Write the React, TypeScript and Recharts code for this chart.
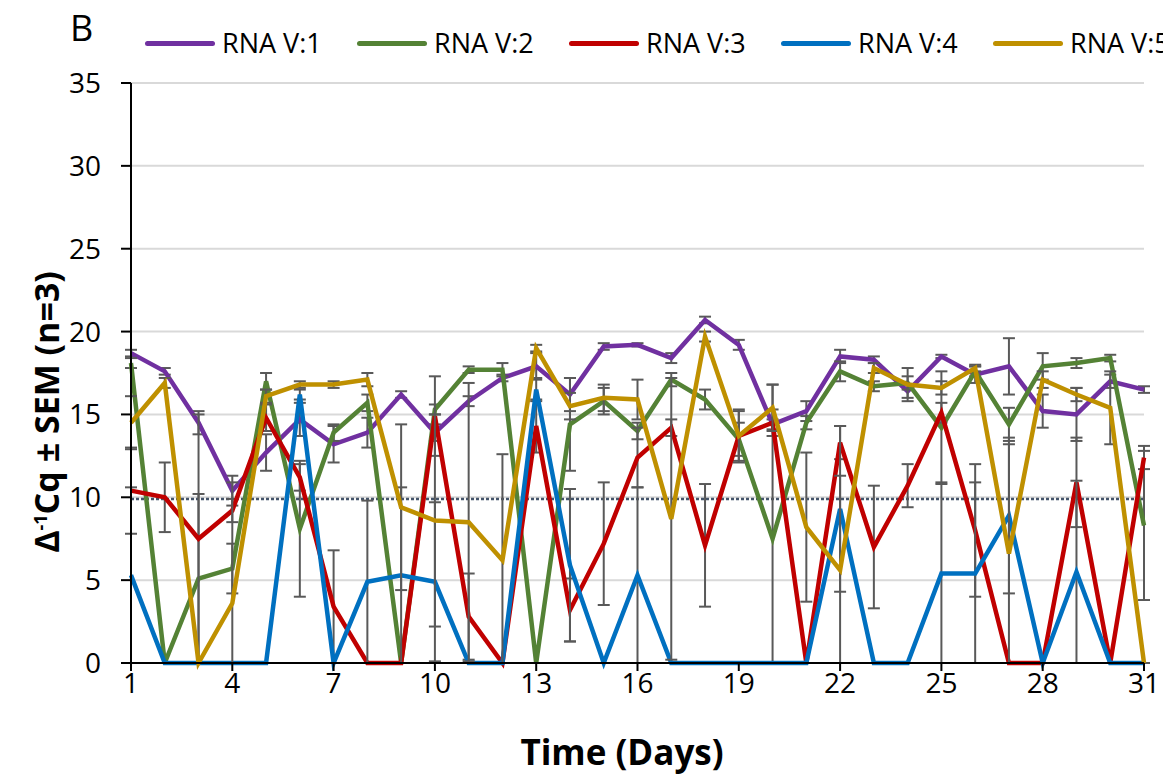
import React from 'react';
import { LineChart, Line, XAxis, YAxis, CartesianGrid, ErrorBar, ReferenceLine } from 'recharts';

const days = [1, 2, 3, 4, 5, 6, 7, 8, 9, 10, 11, 12, 13, 14, 15, 16, 17, 18, 19, 20, 21, 22, 23, 24, 25, 26, 27, 28, 29, 30, 31];
const xTicks = [1, 4, 7, 10, 13, 16, 19, 22, 25, 28, 31];
const yTicks = [0, 5, 10, 15, 20, 25, 30, 35];
const threshold = 9.9;

const seriesNames = ['RNA V:1', 'RNA V:2', 'RNA V:3', 'RNA V:4', 'RNA V:5'];
const seriesColors = ['#7030A0', '#548235', '#C00000', '#0070C0', '#BF9000'];

const rnaV1 = [18.7, 17.6, 14.5, 10.4, 12.7, 14.7, 13.2, 13.9, 16.2, 13.9, 15.8, 17.2, 17.9, 16.2, 19.1, 19.2, 18.4, 20.7, 19.2, 14.4, 15.2, 18.5, 18.3, 16.4, 18.5, 17.4, 17.9, 15.2, 15.0, 17.0, 16.5];
const rnaV1Sem = [0.2, 0.2, 0.7, 0.9, 1.1, 1.0, 1.1, 0.9, 0.2, 0.5, 0.3, 0.2, 0.8, 1.0, 0.2, 0.1, 0.3, 0.2, 0.3, 0.3, 0.6, 0.4, 0.2, 0.4, 0.1, 0.5, 1.7, 1.0, 1.6, 0.4, 0.2];

const rnaV2 = [18.1, 0, 5.1, 5.7, 17.0, 8.1, 13.9, 15.7, 0, 15.3, 17.7, 17.7, 0, 14.4, 15.8, 14.0, 17.1, 15.9, 13.5, 7.5, 14.5, 17.6, 16.7, 16.9, 14.2, 17.6, 14.4, 17.9, 18.1, 18.4, 8.3];
const rnaV2Sem = [0.3, 0, 5.1, 1.5, 0.5, 4.1, 0.5, 0.5, 0, 0.3, 0.2, 0.4, 0, 2.8, 0.8, 0.5, 0.4, 0.6, 1.0, 9.3, 0.4, 0.6, 0.3, 0.4, 3.4, 0.3, 1.0, 0.8, 0.3, 0.2, 4.5];

const rnaV3 = [10.4, 10.0, 7.5, 9.2, 14.8, 11.2, 3.4, 0, 0, 14.9, 2.8, 0, 14.3, 3.2, 7.2, 12.4, 14.2, 7.1, 13.7, 14.5, 0, 13.3, 7.0, 10.7, 15.1, 8.0, 0, 0, 10.9, 0, 12.4];
const rnaV3Sem = [2.6, 2.1, 7.5, 0.7, 0.8, 0.8, 3.4, 0, 0, 2.4, 2.6, 0, 1.6, 1.9, 3.7, 1.8, 0.5, 3.7, 1.5, 0.8, 0, 1.0, 3.7, 1.3, 0.6, 4.0, 0, 0, 2.7, 0, 0.7];

const rnaV4 = [5.3, 0, 0, 0, 0, 16.2, 0, 4.9, 5.3, 4.9, 0, 0, 16.5, 5.9, 0, 5.3, 0, 0, 0, 0, 0, 9.3, 0, 0, 5.4, 5.4, 8.9, 0, 5.5, 0, 0];
const rnaV4Sem = [5.3, 0, 0, 0, 0, 0.3, 0, 4.9, 5.3, 4.8, 0, 0, 0.7, 4.6, 0, 5.3, 0, 0, 0, 0, 0, 5.0, 0, 0, 5.5, 5.5, 4.7, 0, 5.5, 0, 0];

const rnaV5 = [14.5, 16.9, 0, 3.6, 16.1, 16.8, 16.8, 17.1, 9.4, 8.6, 8.5, 6.2, 19.0, 15.5, 16.0, 15.9, 8.7, 19.7, 13.7, 15.4, 8.2, 5.6, 17.8, 16.8, 16.6, 17.8, 6.6, 17.1, 16.2, 15.4, 0];
const rnaV5Sem = [1.6, 0.3, 0, 7.3, 0.4, 0.2, 0.2, 0.4, 5.0, 6.4, 8.4, 6.4, 0.2, 0.8, 0.8, 1.2, 8.5, 0.3, 1.6, 1.4, 4.5, 5.7, 0.3, 1.0, 0.4, 0.2, 6.6, 0.5, 0.4, 2.2, 0];

const values = [rnaV1, rnaV2, rnaV3, rnaV4, rnaV5];
const sems = [rnaV1Sem, rnaV2Sem, rnaV3Sem, rnaV4Sem, rnaV5Sem];

// error bars stop at the x axis, like the original
const data = days.map((day, i) => {
  const row: Record<string, any> = { day };
  values.forEach((vals, s) => {
    row[`v${s}`] = vals[i];
    row[`e${s}`] = [Math.min(sems[s][i], vals[i]), sems[s][i]];
  });
  return row;
});

const font = '"Open Sans", sans-serif';

const App: React.FC = () => {
  return (
    <div style={{ position: 'relative', width: 1163, height: 768, fontFamily: font, color: '#000' }}>
      {/* panel letter */}
      <div style={{ position: 'absolute', left: 62, top: 2, fontSize: 36, lineHeight: 1 }}>B</div>

      {/* legend */}
      <div style={{ position: 'absolute', left: 137, top: 17, display: 'flex' }}>
        {seriesNames.map((name, i) => (
          <div key={name} style={{ width: 212, display: 'flex', alignItems: 'center' }}>
            <div style={{ width: 70, height: 5, borderRadius: 3, background: seriesColors[i], marginRight: 7 }} />
            <span style={{ fontSize: 27, lineHeight: '36px' }}>{name}</span>
          </div>
        ))}
      </div>

      {/* y axis title */}
      <div
        style={{
          position: 'absolute',
          left: 32 - 200,
          top: 404 - 20,
          width: 400,
          height: 40,
          lineHeight: '40px',
          textAlign: 'center',
          fontSize: 34,
          fontWeight: 700,
          transform: 'rotate(-90deg)',
          whiteSpace: 'nowrap',
        }}
      >
        Δ<sup style={{ fontSize: 18 }}>-1</sup>Cq ± SEM (n=3)
      </div>

      {/* x axis title */}
      <div
        style={{
          position: 'absolute',
          left: 614 - 200,
          top: 744 - 20,
          width: 400,
          lineHeight: '40px',
          textAlign: 'center',
          fontSize: 35,
          fontWeight: 700,
        }}
      >
        Time (Days)
      </div>

      <div style={{ position: 'absolute', left: 0, top: 0 }}>
        <LineChart width={1160} height={760} data={data} margin={{ top: 75, right: 24, bottom: 65, left: 0 }}>
          <CartesianGrid horizontal vertical={false} stroke="#D9D9D9" strokeWidth={2} />
          <XAxis
            dataKey="day"
            type="number"
            domain={[1, 31]}
            ticks={xTicks}
            interval={0}
            height={40}
            axisLine={{ stroke: '#000', strokeWidth: 2 }}
            tickLine={{ stroke: '#000', strokeWidth: 2 }}
            tickSize={8}
            tickMargin={2}
            tick={{ fill: '#000', fontSize: 28, fontFamily: font }}
          />
          <YAxis
            domain={[0, 35]}
            ticks={yTicks}
            interval={0}
            width={123}
            axisLine={{ stroke: '#000', strokeWidth: 2 }}
            tickLine={{ stroke: '#000', strokeWidth: 2 }}
            tickSize={10}
            tickMargin={20}
            tick={{ fill: '#000', fontSize: 28, fontFamily: font }}
          />
          <ReferenceLine y={threshold} stroke="#44546A" strokeWidth={2.5} strokeDasharray="3 2" />
          {seriesNames.map((name, s) => (
            <Line
              key={name}
              dataKey={`v${s}`}
              name={name}
              stroke={seriesColors[s]}
              strokeWidth={4.5}
              dot={false}
              activeDot={false}
              isAnimationActive={false}
            >
              <ErrorBar dataKey={`e${s}`} direction="y" width={6} stroke="#595959" strokeWidth={2} isAnimationActive={false} />
            </Line>
          ))}
        </LineChart>
      </div>
    </div>
  );
};

export default App;
